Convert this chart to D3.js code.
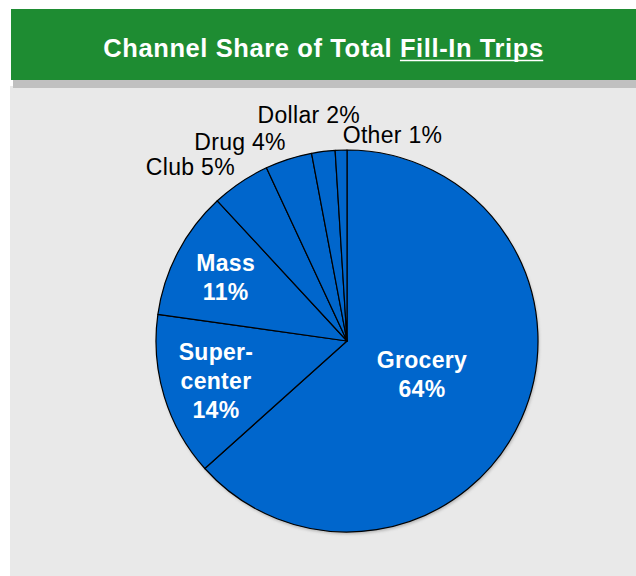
<!DOCTYPE html>
<html>
<head>
<meta charset="utf-8">
<script src="https://cdn.jsdelivr.net/npm/d3@7"></script>
<style>
  html, body { margin: 0; padding: 0; background: #ffffff; }
  svg { display: block; }
</style>
</head>
<body>
<svg id="chart" width="636" height="576"></svg>
<script>
// Channel share of total fill-in trips (percent)
const channels = ["Grocery", "Supercenter", "Mass", "Club", "Drug", "Dollar", "Other"];
const shares   = [64, 14, 11, 5, 4, 2, 1];
// Display text for each slice label (lines)
const labelLines = [["Grocery"], ["Super-", "center"], ["Mass"], ["Club"], ["Drug"], ["Dollar"], ["Other"]];
const titleMain = "Channel Share of Total ";
const titleUnderlined = "Fill-In Trips";

const W = 636, H = 576;
const svg = d3.select("#chart");
const font = "'Liberation Sans', Arial, Helvetica, sans-serif";

// panel background, header shadow strip, green header bar
svg.append("rect").attr("x", 10).attr("y", 86).attr("width", W - 10).attr("height", H - 86).attr("fill", "#e9e9e9");
svg.append("rect").attr("x", 13).attr("y", 80).attr("width", W - 13).attr("height", 8).attr("fill", "#c0c0c0");
svg.append("rect").attr("x", 11).attr("y", 9).attr("width", W - 11).attr("height", 71).attr("fill", "#1e8c32");

// title with underlined tail
const title = svg.append("text")
  .attr("x", (11 + W) / 2).attr("y", 56.5)
  .attr("text-anchor", "middle")
  .attr("font-family", font).attr("font-weight", "bold")
  .attr("font-size", 25.5).attr("letter-spacing", 0.6)
  .attr("fill", "#ffffff");
title.append("tspan").text(titleMain);
title.append("tspan").text(titleUnderlined);
const tnode = title.node();
const nAll = (titleMain + titleUnderlined).length;
const uStart = tnode.getStartPositionOfChar(titleMain.length).x;
const uEnd = tnode.getEndPositionOfChar(nAll - 1).x - 0.5;
svg.append("line")
  .attr("x1", uStart).attr("x2", uEnd)
  .attr("y1", 60.5).attr("y2", 60.5)
  .attr("stroke", "#ffffff").attr("stroke-width", 1.6);

// pie
const cx = 347, cy = 341, R = 191;
const pie = d3.pie().sort(null).value(d => d.value);
const arcs = pie(channels.map((c, i) => ({ name: c, value: shares[i], lines: labelLines[i] })));
const arc = d3.arc().innerRadius(0).outerRadius(R);

const g = svg.append("g").attr("transform", `translate(${cx},${cy})`);

// soft shadow under the disc
const defs = svg.append("defs");
defs.append("filter").attr("id", "sh").attr("x", "-10%").attr("y", "-10%").attr("width", "120%").attr("height", "120%")
  .append("feGaussianBlur").attr("stdDeviation", 1.5);
g.append("circle").attr("cx", 1).attr("cy", 2).attr("r", R)
  .attr("fill", "#8a8a8a").attr("opacity", 0.6).attr("filter", "url(#sh)");

g.selectAll("path.slice").data(arcs).join("path")
  .attr("class", "slice")
  .attr("d", arc)
  .attr("fill", "#0066cc")
  .attr("stroke", "#000000")
  .attr("stroke-width", 1.2)
  .attr("stroke-linejoin", "round");

// inside labels: large slices get bold white text near their centroid
const insideMin = 0.08;
const total = d3.sum(shares);
const lineH = 29;
const inside = arcs.filter(d => d.value / total >= insideMin);
inside.forEach(d => {
  const big = (d.endAngle - d.startAngle) > Math.PI;
  const lr = big ? R * 0.43 : R * 0.717;
  const mid = (d.startAngle + d.endAngle) / 2;
  const x = lr * Math.sin(mid), y = -lr * Math.cos(mid);
  const lines = d.data.lines.concat([d.value + "%"]);
  const y0 = y - (lines.length - 1) * lineH / 2 + 8;
  const t = g.append("text")
    .attr("text-anchor", "middle")
    .attr("font-family", font).attr("font-weight", "bold")
    .attr("font-size", 23).attr("letter-spacing", 0.3)
    .attr("fill", "#ffffff");
  lines.forEach((s, k) => {
    t.append("tspan").attr("x", x).attr("y", y0 + k * lineH).text(s);
  });
});

// outside labels: small slices get a one-line label just beyond the rim
const outR = R + 12;
const outsidePlacement = {
  Club:   { anchor: "end",    dx: 1,   dy: 2.5 },
  Drug:   { anchor: "end",    dx: 1,   dy: 2.5 },
  Dollar: { anchor: "middle", dx: -13, dy: -16.5 },
  Other:  { anchor: "start",  dx: 2,   dy: 5 }
};
arcs.filter(d => d.value / total < insideMin).forEach(d => {
  const mid = (d.startAngle + d.endAngle) / 2;
  const x = outR * Math.sin(mid), y = -outR * Math.cos(mid);
  const p = outsidePlacement[d.data.name] || { anchor: Math.sin(mid) < 0 ? "end" : "start", dx: 0, dy: 0 };
  g.append("text")
    .attr("x", x + p.dx).attr("y", y + p.dy)
    .attr("text-anchor", p.anchor)
    .attr("font-family", font)
    .attr("font-size", 23).attr("letter-spacing", 0.3)
    .attr("fill", "#000000")
    .text(d.data.lines.join(" ") + " " + d.value + "%");
});
</script>
</body>
</html>
